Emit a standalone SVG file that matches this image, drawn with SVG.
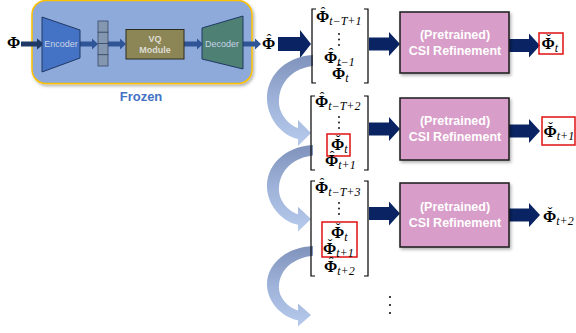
<svg xmlns="http://www.w3.org/2000/svg" width="576" height="333" viewBox="0 0 576 333">
  <style>
    .m { font-family: "Liberation Serif", "DejaVu Serif", serif; font-weight: bold; font-size: 16px; fill: #000; }
    .s { font-style: italic; font-weight: normal; font-size: 12px; }
    .h { font-weight: normal; font-size: 14px; }
    .blk { font-family: "Liberation Sans", Arial, sans-serif; font-size: 9px; fill: #c9d3e8; text-anchor: middle; }
    .vq { font-family: "Liberation Sans", Arial, sans-serif; font-size: 9px; font-weight: bold; fill: #dcdcd2; text-anchor: middle; }
    .ref { font-family: "Liberation Sans", Arial, sans-serif; font-size: 12.5px; font-weight: bold; fill: #ffffff; text-anchor: middle; }
    .pink { fill: #d89dc8; stroke: #1a1a1a; stroke-width: 1.5; }
    .navy { fill: #0a2463; }
    .thin { fill: #2f5597; }
    .red { fill: none; stroke: #e01010; stroke-width: 1.5; }
    .brk { fill: none; stroke: #000; stroke-width: 1.2; }
  </style>
  <defs>
    <linearGradient id="loopGrad" x1="0" y1="0" x2="0" y2="1">
      <stop offset="0" stop-color="#7f92bb"/>
      <stop offset="0.5" stop-color="#9fb3da"/>
      <stop offset="1" stop-color="#b6caec"/>
    </linearGradient>
    <filter id="shadow" x="-10%" y="-10%" width="125%" height="130%">
      <feDropShadow dx="1.5" dy="2" stdDeviation="1.5" flood-color="#000" flood-opacity="0.3"/>
    </filter>
    <!-- curved feedback arrow, top edge at y=0 -->
    <path id="loop" d="M 313 0 C 283 2, 266 23, 267 45 C 268 65, 283 81, 298 84 L 298 91 L 311 78 L 298 65 L 298 73 C 287 69, 278 57, 279 45 C 280 25, 295 13, 313 11 Z" fill="url(#loopGrad)"/>
  </defs>

  <!-- frozen autoencoder block -->
  <g id="frozen">
    <rect x="32" y="0.5" width="220" height="83" rx="14" fill="#8eaadb" stroke="#ffc000" stroke-width="1.5" filter="url(#shadow)"/>
    <text x="141" y="101" font-family="Liberation Sans, Arial, sans-serif" font-size="13" font-weight="bold" fill="#4472c4" text-anchor="middle">Frozen</text>
  </g>

  <g id="input">
    <text class="m" x="7" y="48">Φ</text>
  </g>

  <g id="connectors">
    <!-- autoencoder internal arrows -->
    <polygon fill="#1f3864" points="21,41.5 37,41.5 37,38.5 44,44 37,49.5 37,46.5 21,46.5"/>
    <polygon class="thin" points="80,41.5 92,41.5 92,38.5 98,44 92,49.5 92,46.5 80,46.5"/>
    <polygon class="thin" points="108,41.5 120,41.5 120,38.5 126,44 120,49.5 120,46.5 108,46.5"/>
    <polygon class="thin" points="184,41.5 197,41.5 197,38.5 203,44 197,49.5 197,46.5 184,46.5"/>
    <polygon class="thin" points="243,41.5 255,41.5 255,38.5 261,44 255,49.5 255,46.5 243,46.5"/>
    <!-- into the first window -->
    <polygon class="navy" points="278,37 300,37 300,30 311,44 300,58 300,51 278,51"/>
    <!-- windows into refinement -->
    <polygon class="navy" points="369,37.5 389,37.5 389,32 400,44 389,56 389,50.5 369,50.5"/>
    <polygon class="navy" points="369,122.5 389,122.5 389,117 400,129 389,141 389,135.5 369,135.5"/>
    <polygon class="navy" points="369,207 389,207 389,201.5 400,213.5 389,225.5 389,220 369,220"/>
    <!-- refinement outputs -->
    <polygon class="navy" points="509,39 529,39 529,33.5 540,45.5 529,57.5 529,52 509,52"/>
    <polygon class="navy" points="509,124.5 529,124.5 529,119 540,131 529,143 529,137.5 509,137.5"/>
    <polygon class="navy" points="509,208.5 529,208.5 529,203 540,215 529,227 529,221.5 509,221.5"/>
    <!-- feedback loops -->
    <use href="#loop" transform="translate(0,55)"/>
    <use href="#loop" transform="translate(0,145) scale(1,0.95)"/>
    <use href="#loop" transform="translate(0,246) scale(1,0.885)"/>
  </g>

  <g id="encoder">
    <polygon points="42,17 80,30 80,58 42,72" fill="#4472c4" stroke="#203864" stroke-width="1"/>
    <text class="blk" x="61" y="47">Encoder</text>
  </g>

  <g id="codebook">
    <rect x="98" y="21" width="10" height="11.25" fill="#8497b0" stroke="#3a4a66" stroke-width="0.8"/>
    <rect x="98" y="32.25" width="10" height="11.25" fill="#8497b0" stroke="#3a4a66" stroke-width="0.8"/>
    <rect x="98" y="43.5" width="10" height="11.25" fill="#8497b0" stroke="#3a4a66" stroke-width="0.8"/>
    <rect x="98" y="54.75" width="10" height="11.25" fill="#8497b0" stroke="#3a4a66" stroke-width="0.8"/>
  </g>

  <g id="vq">
    <rect x="126" y="29.5" width="58" height="29.5" fill="#8c8657" stroke="#2b2b20" stroke-width="1"/>
    <text class="vq" x="155" y="41.5">VQ</text>
    <text class="vq" x="155" y="53">Module</text>
  </g>

  <g id="decoder">
    <polygon points="202,28 243,16 243,69 202,59" fill="#4e8074" stroke="#203864" stroke-width="1"/>
    <text class="blk" x="222" y="47">Decoder</text>
  </g>

  <!-- accented symbols: base glyph, accent pulled back over it, then subscript -->
  <g id="recon">
    <text class="m" x="262" y="49">Φ<tspan class="h" dx="-8.5" dy="-5">ˆ</tspan></text>
  </g>

  <!-- window 1 -->
  <g id="window1">
    <path class="brk" d="M 316 9 H 312 V 83 H 316"/>
    <path class="brk" d="M 364 9 H 368 V 83 H 364"/>
    <text class="m" x="316" y="22">Φ<tspan class="h" dx="-8.5" dy="-5">ˆ</tspan><tspan class="s" dx="3.8" dy="8">t−T+1</tspan></text>
    <circle cx="339" cy="34" r="0.9"/>
    <circle cx="339" cy="39.5" r="0.9"/>
    <circle cx="339" cy="45" r="0.9"/>
    <text class="m" x="324" y="63">Φ<tspan class="h" dx="-8.5" dy="-5">ˆ</tspan><tspan class="s" dx="3.8" dy="8">t−1</tspan></text>
    <text class="m" x="332" y="79">Φ<tspan class="h" dx="-8.5" dy="-5">ˆ</tspan><tspan class="s" dx="3.8" dy="8">t</tspan></text>
  </g>

  <!-- window 2 -->
  <g id="window2">
    <path class="brk" d="M 315 96 H 311 V 170 H 315"/>
    <path class="brk" d="M 364 96 H 368 V 170 H 364"/>
    <text class="m" x="315" y="107">Φ<tspan class="h" dx="-8.5" dy="-5">ˆ</tspan><tspan class="s" dx="3.8" dy="8">t−T+2</tspan></text>
    <circle cx="339" cy="117" r="0.9"/>
    <circle cx="339" cy="122.5" r="0.9"/>
    <circle cx="339" cy="128" r="0.9"/>
    <rect class="red" x="327" y="134" width="23" height="22"/>
    <text class="m" x="331" y="150">Φ<tspan class="h" dx="-8.5" dy="-5">ˇ</tspan><tspan class="s" dx="3.8" dy="8">t</tspan></text>
    <text class="m" x="325" y="166">Φ<tspan class="h" dx="-8.5" dy="-5">ˆ</tspan><tspan class="s" dx="3.8" dy="8">t+1</tspan></text>
  </g>

  <!-- window 3 -->
  <g id="window3">
    <path class="brk" d="M 315 181 H 311 V 276 H 315"/>
    <path class="brk" d="M 364 181 H 368 V 276 H 364"/>
    <text class="m" x="315" y="193">Φ<tspan class="h" dx="-8.5" dy="-5">ˆ</tspan><tspan class="s" dx="3.8" dy="8">t−T+3</tspan></text>
    <circle cx="339" cy="203" r="0.9"/>
    <circle cx="339" cy="208.5" r="0.9"/>
    <circle cx="339" cy="214" r="0.9"/>
    <rect class="red" x="322" y="222" width="35" height="35"/>
    <text class="m" x="331" y="238">Φ<tspan class="h" dx="-8.5" dy="-5">ˇ</tspan><tspan class="s" dx="3.8" dy="8">t</tspan></text>
    <text class="m" x="323" y="254">Φ<tspan class="h" dx="-8.5" dy="-5">ˇ</tspan><tspan class="s" dx="3.8" dy="8">t+1</tspan></text>
    <text class="m" x="324" y="272">Φ<tspan class="h" dx="-8.5" dy="-5">ˆ</tspan><tspan class="s" dx="3.8" dy="8">t+2</tspan></text>
  </g>

  <g id="more">
    <circle cx="390" cy="297" r="1"/>
    <circle cx="390" cy="305" r="1"/>
    <circle cx="390" cy="313" r="1"/>
  </g>

  <!-- refinement blocks -->
  <g id="refine1">
    <rect class="pink" x="400" y="12" width="109" height="61" filter="url(#shadow)"/>
    <text class="ref" x="455" y="39">(Pretrained)</text>
    <text class="ref" x="455" y="55">CSI Refinement</text>
  </g>
  <g id="refine2">
    <rect class="pink" x="400" y="98" width="109" height="62" filter="url(#shadow)"/>
    <text class="ref" x="455" y="125">(Pretrained)</text>
    <text class="ref" x="455" y="141">CSI Refinement</text>
  </g>
  <g id="refine3">
    <rect class="pink" x="400" y="183" width="109" height="64" filter="url(#shadow)"/>
    <text class="ref" x="455" y="211">(Pretrained)</text>
    <text class="ref" x="455" y="227">CSI Refinement</text>
  </g>

  <!-- outputs -->
  <g id="out1">
    <rect class="red" x="539" y="33" width="24" height="21"/>
    <text class="m" x="541.5" y="49">Φ<tspan class="h" dx="-8.5" dy="-5">ˇ</tspan><tspan class="s" dx="3.8" dy="8">t</tspan></text>
  </g>
  <g id="out2">
    <rect class="red" x="542" y="117" width="33" height="28"/>
    <text class="m" x="543.5" y="137">Φ<tspan class="h" dx="-8.5" dy="-5">ˇ</tspan><tspan class="s" dx="3.8" dy="8">t+1</tspan></text>
  </g>
  <g id="out3">
    <text class="m" x="543" y="222">Φ<tspan class="h" dx="-8.5" dy="-5">ˇ</tspan><tspan class="s" dx="3.8" dy="8">t+2</tspan></text>
  </g>
</svg>
